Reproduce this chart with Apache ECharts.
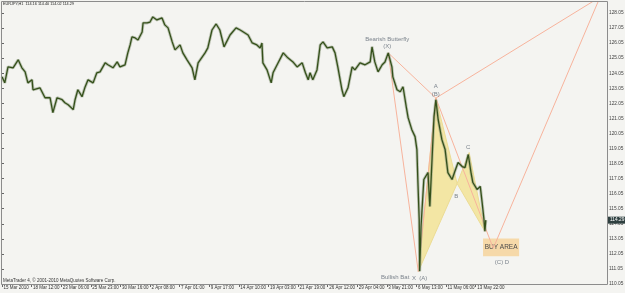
<!DOCTYPE html>
<html>
<head>
<meta charset="utf-8">
<script src="https://cdn.jsdelivr.net/npm/echarts@6/dist/echarts.min.js"></script>
<style>
    html, body { margin: 0; padding: 0; background: #f4f4f1; }
    #chart { width: 625px; height: 293px; }
</style>
</head>
<body>
<div id="chart"></div>
<script>
// x axis: H1 bar index, one label every 64 bars
const timeLabels = ['15 Mar 2010', '18 Mar 12:00', '23 Mar 06:00', '25 Mar 23:00', '30 Mar 16:00',
    '2 Apr 08:00', '7 Apr 01:00', '9 Apr 17:00', '14 Apr 10:00', '19 Apr 03:00', '21 Apr 19:00',
    '26 Apr 12:00', '29 Apr 04:00', '3 May 21:00', '6 May 13:00', '11 May 06:00', '13 May 22:00'];
const priceTicks = [110.05, 111.05, 112.05, 113.05, 114.05, 115.05, 116.05, 117.05, 118.05, 119.05,
    120.05, 121.05, 122.05, 123.05, 124.05, 125.05, 126.05, 127.05, 128.05];

// EURJPY H1 price path (bar index, price)
const traceBars = [0, 6, 13, 24, 35, 43, 50, 56, 65, 67, 82, 93, 104, 110, 119, 130, 136, 143, 154, 158,
    164, 173, 179, 186, 197, 205, 212, 223, 229, 240, 249, 255, 266, 272, 277, 281, 288, 294, 303, 305,
    314, 320, 326, 335, 346, 352, 359, 368, 374, 385, 391, 400, 411, 417, 424, 439, 445, 454, 463, 471,
    480, 493, 506, 515, 532, 541, 551, 558, 562, 564, 573, 582, 586, 597, 608, 618, 629, 638, 649, 656,
    662, 666, 672, 681, 688, 694, 703, 714, 720, 726, 735, 739, 748, 757, 763, 774, 785, 796, 800, 806,
    813, 822, 828, 835, 843, 845, 854, 861, 867, 874, 878, 886, 893, 897, 899, 902, 903, 906, 912, 921,
    925, 930, 934, 938, 943, 951, 958, 964, 973, 979, 986, 995, 1001, 1008, 1014, 1018, 1027, 1034, 1038,
    1042, 1044, 1046];
const tracePrices = [123.81, 123.41, 124.47, 124.41, 124.94, 124.41, 124.14, 123.41, 123.61, 122.95,
    123.08, 122.42, 122.42, 121.43, 122.42, 122.29, 122.09, 121.96, 121.63, 122.29, 122.95, 122.49,
    123.08, 123.61, 123.41, 124.08, 124.14, 124.74, 124.61, 124.41, 124.80, 124.47, 124.61, 125.40,
    125.93, 126.46, 126.39, 126.26, 126.79, 127.39, 127.39, 127.45, 127.79, 127.59, 127.72, 127.26,
    127.06, 126.13, 125.60, 125.93, 125.40, 124.94, 124.41, 123.61, 124.74, 125.40, 125.73, 126.92,
    127.32, 126.92, 125.80, 126.59, 127.06, 126.92, 126.59, 126.06, 125.93, 125.73, 126.06, 124.74,
    124.27, 123.41, 124.08, 124.74, 125.40, 125.07, 124.80, 124.47, 124.74, 124.08, 123.61, 124.08,
    123.61, 124.27, 125.93, 126.13, 125.73, 125.80, 125.40, 124.47, 122.95, 122.49, 123.08, 124.47,
    124.27, 124.74, 124.61, 124.80, 125.80, 124.80, 124.14, 124.61, 124.80, 125.40, 124.47, 123.81,
    122.95, 122.82, 123.15, 121.82, 121.10, 120.30, 119.84, 118.98, 116.99, 114.34, 110.90, 113.88,
    116.99, 117.45, 115.20, 118.51, 121.16, 122.29, 120.96, 119.64, 118.98, 117.45, 116.99, 117.52,
    118.12, 117.85, 117.78, 118.65, 117.45, 116.79, 116.33, 116.53, 115.47, 114.34, 113.55, 114.29];
const lastPrice = 114.29;

// Bearish Butterfly: X, A, B, C, D
const bflyBars = [835, 900, 938, 1062, 1293];
const bflyPrices = [125.40, 110.88, 122.40, 112.42, 129.11];
// Bullish Bat: X, A, B, C, D
const batBars = [900, 938, 984, 1010, 1044];
const batPrices = [110.88, 122.40, 116.72, 118.78, 113.55];
// buy area box
const buyBars = [1040, 1118];
const buyPrices = [113.08, 111.89];

// text notes
const noteTexts = ['Bearish Butterfly', '(X)', 'A', '(B)', 'C', 'B', '(C) D', 'Bullish Bat', 'X', '(A)'];
const noteBars = [833, 833, 938, 938, 1008, 982, 1081, 850, 891, 911];
const notePrices = [126.33, 125.86, 123.15, 122.62, 119.11, 115.86, 111.49, 110.47, 110.43, 110.43];

const FONT = 'Liberation Sans';
const chart = echarts.init(document.getElementById('chart'));

const pt = (bars, prices, i) => [bars[i], prices[i]];
const labelBars = timeLabels.map((t, i) => i * 64);
const traceData = traceBars.map((b, i) => [b, tracePrices[i]]);

const option = {
    backgroundColor: '#f4f4f1',
    animation: false,
    title: [{
        text: 'EURJPY,H1  114.16 114.40 114.02 114.29',
        left: 3, top: 2, padding: 0,
        textStyle: { fontSize: 3.8, fontWeight: 'normal', color: '#222', fontFamily: FONT }
    }, {
        text: 'MetaTrader 4, © 2001-2010 MetaQuotes Software Corp.',
        left: 3, top: 278, padding: 0,
        textStyle: { fontSize: 4.5, fontWeight: 'normal', color: '#333', fontFamily: FONT }
    }],
    grid: { left: 2, right: 18, top: 2, bottom: 9, outerBoundsMode: 'none' },
    graphic: [{
        type: 'rect',
        shape: { x: 1.5, y: 1.5, width: 606, height: 283 },
        style: { fill: null, stroke: '#8c8c8c', lineWidth: 1 },
        z: 100
    }],
    xAxis: {
        type: 'value', min: 0, max: 1308,
        splitLine: { show: false },
        axisLine: { show: false },
        axisTick: { length: 3, lineStyle: { color: '#666' }, customValues: labelBars },
        axisLabel: {
            fontSize: 4.5, color: '#333', fontFamily: FONT, align: 'left', margin: 1,
            padding: [0, 0, 0, 1.5], hideOverlap: false, customValues: labelBars,
            formatter: v => timeLabels[Math.round(v / 64)] || ''
        }
    },
    yAxis: {
        type: 'value', position: 'right', min: 110.05, max: 128.78,
        splitLine: { show: false },
        axisLine: { show: false },
        axisTick: { show: true, length: 2, lineStyle: { color: '#666' }, customValues: priceTicks },
        axisLabel: {
            fontSize: 4.8, color: '#444', fontFamily: FONT, margin: 2,
            customValues: priceTicks, formatter: v => v.toFixed(2)
        }
    },
    series: [{
        // bat triangles XAB and BCD
        type: 'custom',
        data: [
            [...pt(batBars, batPrices, 0), ...pt(batBars, batPrices, 1), ...pt(batBars, batPrices, 2)],
            [...pt(batBars, batPrices, 2), ...pt(batBars, batPrices, 3), ...pt(batBars, batPrices, 4)]
        ],
        renderItem: function (params, api) {
            const points = [0, 1, 2].map(i => api.coord([api.value(i * 2), api.value(i * 2 + 1)]));
            return {
                type: 'polygon',
                shape: { points: points },
                style: { fill: '#f3e6a4', stroke: '#ecdc94', lineWidth: 1 }
            };
        },
        z: 1
    }, {
        type: 'line',
        data: [],
        markArea: {
            silent: true,
            itemStyle: { color: '#f6d9a9' },
            label: { show: true, position: 'inside', color: '#4a4a4a', fontSize: 6.5, fontFamily: FONT },
            data: [[
                { name: 'BUY AREA', coord: [buyBars[0], buyPrices[0]] },
                { coord: [buyBars[1], buyPrices[1]] }
            ]]
        },
        z: 1
    }, {
        // butterfly X-A-B-C-D
        type: 'line',
        data: [0, 1, 2, 3, 4].map(i => pt(bflyBars, bflyPrices, i)),
        symbol: 'none',
        lineStyle: { color: '#f7b39c', width: 1 },
        z: 2
    }, {
        // butterfly X-B-D
        type: 'line',
        data: [0, 2, 4].map(i => pt(bflyBars, bflyPrices, i)),
        symbol: 'none',
        lineStyle: { color: '#f7b39c', width: 1 },
        z: 2
    }, {
        // soft halo under the bars, like the wicks
        type: 'line',
        data: traceData,
        symbol: 'none',
        lineStyle: { color: '#8e9a80', width: 3, opacity: 0.55 },
        z: 3
    }, {
        type: 'line',
        data: traceData,
        symbol: 'none',
        lineStyle: { color: '#34501a', width: 1.3 },
        markLine: {
            silent: true,
            symbol: 'none',
            lineStyle: { color: 'rgba(0,0,0,0)', width: 0 },
            label: {
                show: true, position: 'end', distance: 1, formatter: lastPrice.toFixed(2),
                backgroundColor: '#2f4040', color: '#fff', fontSize: 4.8, fontFamily: FONT, padding: [1, 2]
            },
            data: [{ yAxis: lastPrice }]
        },
        z: 4
    }, {
        type: 'scatter',
        symbolSize: 0,
        data: noteTexts.map((t, i) => ({ name: t, value: [noteBars[i], notePrices[i]] })),
        label: {
            show: true, position: 'inside', formatter: p => p.name,
            color: '#5d6673', fontSize: 6, fontFamily: FONT
        },
        z: 5
    }]
};

chart.setOption(option);
</script>
</body>
</html>
